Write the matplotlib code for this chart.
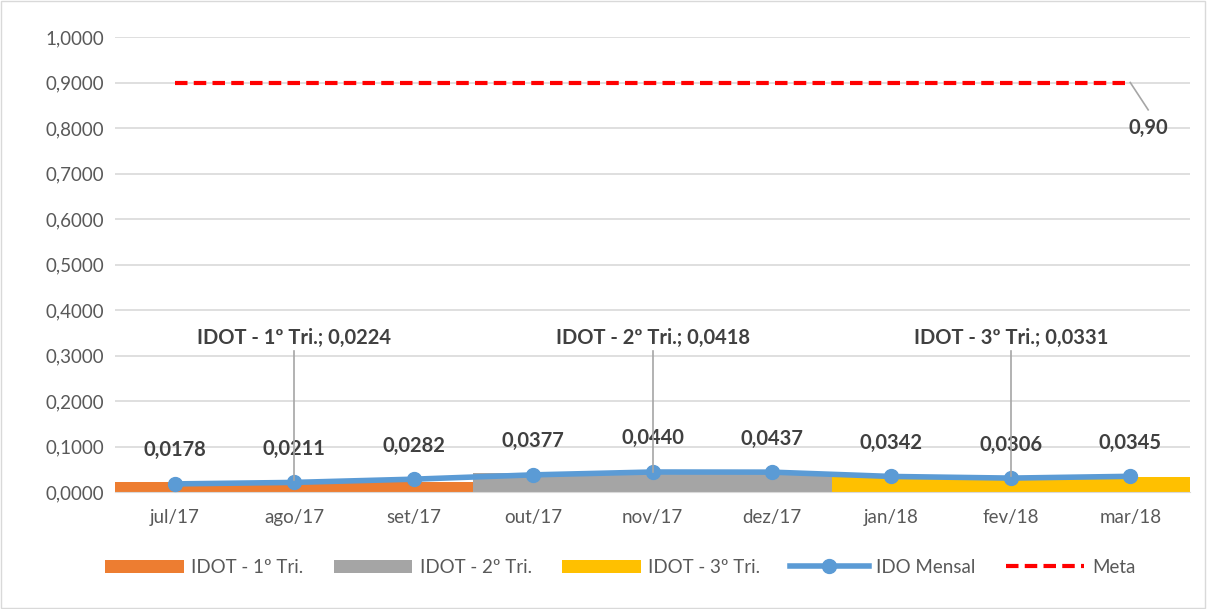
import matplotlib.pyplot as plt
from matplotlib.patches import Rectangle

meses = ['jul/17', 'ago/17', 'set/17', 'out/17', 'nov/17', 'dez/17', 'jan/18', 'fev/18', 'mar/18']
ido_mensal = [0.0178, 0.0211, 0.0282, 0.0377, 0.0440, 0.0437, 0.0342, 0.0306, 0.0345]
idot_tri = [0.0224, 0.0418, 0.0331]
tri_nomes = ['IDOT - 1º Tri.', 'IDOT - 2º Tri.', 'IDOT - 3º Tri.']
tri_cores = ['#ED7D31', '#A5A5A5', '#FFC000']
meta = 0.90


def fmt(v, casas=4):
    return f'{v:.{casas}f}'.replace('.', ',')


plt.rcParams['font.family'] = ['Lato', 'DejaVu Sans']

fig = plt.figure(figsize=(12.07, 6.09), dpi=100)
ax = fig.add_axes([0.0953, 0.1921, 0.8906, 0.7471])
fig.patches.append(Rectangle((0.001, 0.002), 0.997, 0.996, transform=fig.transFigure,
                             fill=False, edgecolor='#D9D9D9', lw=1))

x = list(range(len(meses)))

# areas por trimestre
for i, v in enumerate(idot_tri):
    ax.fill_between([3 * i - 0.5, 3 * i + 2.5], 0, v, color=tri_cores[i],
                    lw=0, label=tri_nomes[i], zorder=2)

ax.plot(x, ido_mensal, color='#5B9BD5', lw=4, marker='o', ms=10,
        label='IDO Mensal', zorder=4)
ax.plot([x[0], x[-1]], [meta, meta], color='#FF0000', lw=3, ls=(0, (3, 1.5)),
        label='Meta', zorder=3)

for xi, v in zip(x, ido_mensal):
    ax.annotate(fmt(v), (xi, v), xytext=(0, 17),
                textcoords='offset points', ha='center', va='bottom',
                fontsize=14.5, fontweight='bold', color='#404040')

# rotulos dos trimestres
for i, v in enumerate(idot_tri):
    xc = 3 * i + 1
    ax.plot([xc, xc], [v + 0.003, 0.31], color='#A6A6A6', lw=1.2, zorder=5)
    ax.text(xc, 0.316, f'{tri_nomes[i]}; {fmt(v)}', ha='center',
            va='bottom', fontsize=14.5, fontweight='bold', color='#404040')

ax.plot([x[-1], x[-1] + 0.15], [meta, meta - 0.06], color='#A6A6A6', lw=1.2)
ax.text(x[-1] + 0.15, meta - 0.10, fmt(meta, 2), ha='center', va='center',
        fontsize=14.5, fontweight='bold', color='#404040')

ax.set_xlim(-0.5, 8.5)
ax.set_ylim(0, 1.0)
ax.set_yticks([i / 10 for i in range(11)])
ax.set_yticklabels([fmt(i / 10) for i in range(11)])
ax.set_xticks(x)
ax.set_xticklabels(meses)
ax.tick_params(axis='both', length=0, labelsize=13.5, labelcolor='#595959')
ax.tick_params(axis='x', pad=12)
ax.tick_params(axis='y', pad=8)
ax.grid(axis='y', color='#D9D9D9', lw=1.2, zorder=0)
ax.set_axisbelow(True)
for s in ['top', 'right', 'left']:
    ax.spines[s].set_visible(False)
ax.spines['bottom'].set_color('#D9D9D9')

ax.legend(loc='upper center', bbox_to_anchor=(0.47, -0.11), ncol=5, frameon=False,
          fontsize=13.5, labelcolor='#595959', handlelength=4.2, columnspacing=1.6,
          handletextpad=0.4)

fig.savefig('out.png', dpi=100)
